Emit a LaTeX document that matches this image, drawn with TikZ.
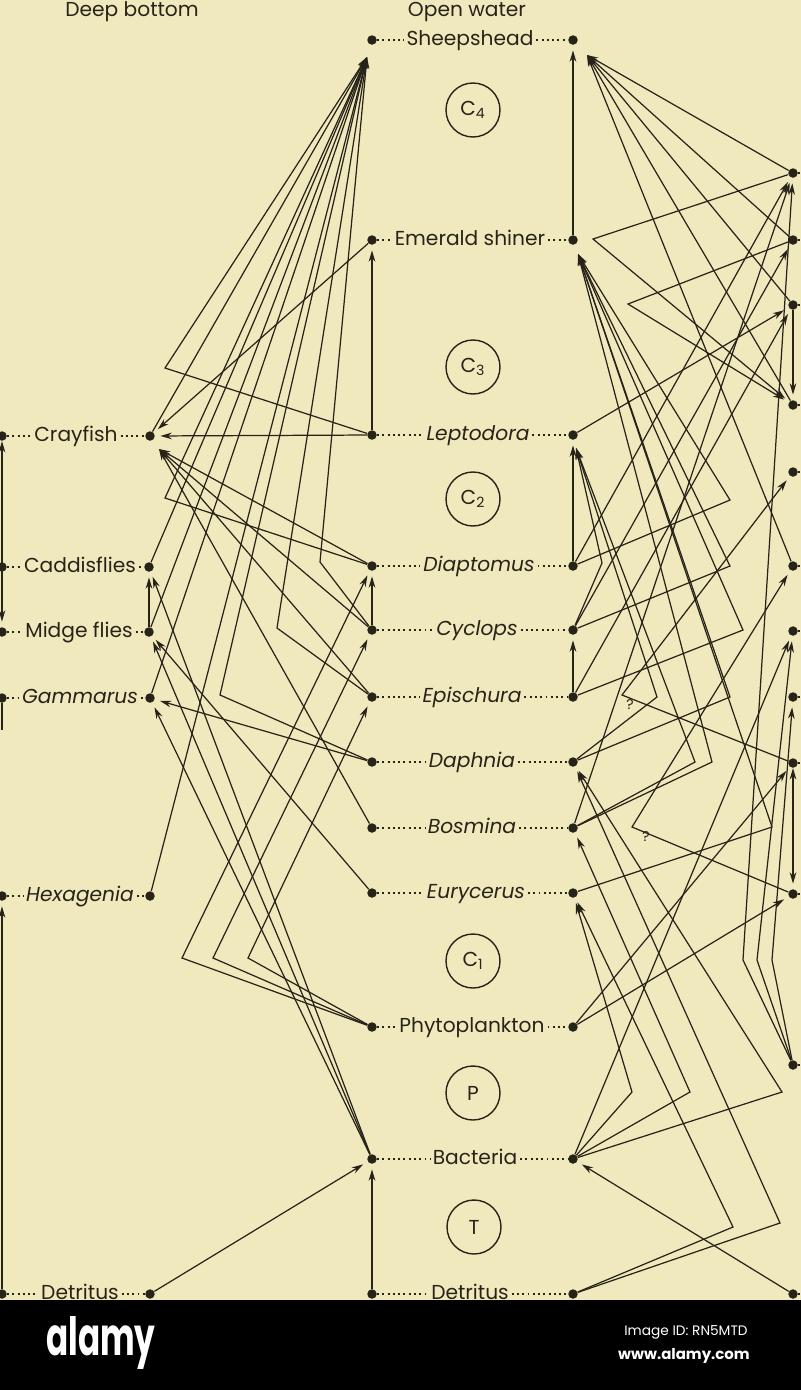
\documentclass[tikz,border=0pt]{standalone}
\usepackage{fontspec}
\setmainfont{Poppins}
\setsansfont{Poppins}
\usetikzlibrary{arrows.meta}
\definecolor{paper}{RGB}{241,233,190}
\definecolor{ink}{RGB}{40,35,25}
\newcommand\labfont{\sffamily\fontsize{11.5}{13}\selectfont}
\tikzstyle{dot} = [circle, fill=ink, inner sep=0pt, minimum size=0.19cm]
\tikzstyle{lab} = [inner sep=1.5pt, text=ink, font=\labfont, text height=1.7ex, text depth=0.5ex]
\tikzstyle{genus} = [lab, font=\labfont\itshape]
\tikzstyle{leader} = [ink, line width=1.2pt, dash pattern=on 1.1pt off 1.9pt]
\tikzstyle{trophic} = [circle, draw=ink, line width=0.8pt, minimum size=1.08cm, inner sep=0pt, text=ink, font=\labfont]
\tikzstyle{arrow} = [ink, line width=0.7pt, ->, >={Stealth[length=6.5pt,width=3.8pt]}, shorten >=3pt, line join=miter]
\tikzstyle{fan} = [arrow, shorten >=0pt]
\tikzstyle{query} = [inner sep=0pt, text=ink, font=\sffamily\fontsize{8}{9}\selectfont]

\begin{document}
\begin{tikzpicture}[x=0.02cm, y=-0.02cm]
  \useasboundingbox (0,0) rectangle (801,1390);
  \fill [paper] (0,0) rectangle (801,1300);
  \begin{scope}
  \clip (0,0) rectangle (801,1300);

  % headings
  \node (deep) [lab] at (132,11) {Deep bottom};
  \node (open) [lab] at (467,11) {Open water};

  % deep bottom
  \node (crayL) [dot] at (2,436) {};
  \node (crayR) [dot] at (150,436) {};
  \node (cray) [lab] at (76,436) {Crayfish};
  \node (caddL) [dot] at (2,567) {};
  \node (caddR) [dot] at (149,567) {};
  \node (cadd) [lab] at (80,567) {Caddisflies};
  \node (midgeL) [dot] at (2,632) {};
  \node (midgeR) [dot] at (149,632) {};
  \node (midge) [lab] at (79,632) {Midge flies};
  \node (gammL) [dot] at (2,698) {};
  \node (gammR) [dot] at (150,698) {};
  \node (gamm) [genus] at (80,698) {Gammarus};
  \node (hexaL) [dot] at (2,896) {};
  \node (hexaR) [dot] at (150,896) {};
  \node (hexa) [genus] at (80,896) {Hexagenia};
  \node (detbL) [dot] at (2,1294) {};
  \node (detbR) [dot] at (150,1294) {};
  \node (detb) [lab] at (80,1294) {Detritus};

  % open water
  \node (sheepL) [dot] at (372,40) {};
  \node (sheepR) [dot] at (573,40) {};
  \node (sheep) [lab] at (470,40) {Sheepshead};
  \node (shinerL) [dot] at (372,240) {};
  \node (shinerR) [dot] at (573,240) {};
  \node (shiner) [lab] at (470,240) {Emerald shiner};
  \node (leptoL) [dot] at (372,435) {};
  \node (leptoR) [dot] at (573,435) {};
  \node (lepto) [genus] at (478,435) {Leptodora};
  \node (diapL) [dot] at (372,566) {};
  \node (diapR) [dot] at (573,566) {};
  \node (diap) [genus] at (479,566) {Diaptomus};
  \node (cyclL) [dot] at (372,630) {};
  \node (cyclR) [dot] at (573,630) {};
  \node (cycl) [genus] at (477,630) {Cyclops};
  \node (episL) [dot] at (372,697) {};
  \node (episR) [dot] at (573,697) {};
  \node (epis) [genus] at (472,697) {Epischura};
  \node (daphL) [dot] at (372,762) {};
  \node (daphR) [dot] at (573,762) {};
  \node (daph) [genus] at (472,762) {Daphnia};
  \node (bosmL) [dot] at (372,828) {};
  \node (bosmR) [dot] at (573,828) {};
  \node (bosm) [genus] at (472,828) {Bosmina};
  \node (euryL) [dot] at (372,893) {};
  \node (euryR) [dot] at (573,893) {};
  \node (eury) [genus] at (476,893) {Eurycerus};
  \node (phytoL) [dot] at (372,1027) {};
  \node (phytoR) [dot] at (573,1027) {};
  \node (phyto) [lab] at (472,1027) {Phytoplankton};
  \node (bactL) [dot] at (372,1159) {};
  \node (bactR) [dot] at (573,1159) {};
  \node (bact) [lab] at (475,1159) {Bacteria};
  \node (detwL) [dot] at (372,1294) {};
  \node (detwR) [dot] at (573,1294) {};
  \node (detw) [lab] at (470,1294) {Detritus};

  % third column (cut off)
  \node (r1) [dot] at (793,173) {};
  \node (r2) [dot] at (793,240) {};
  \node (r3) [dot] at (793,305) {};
  \node (r4) [dot] at (793,405) {};
  \node (r5) [dot] at (793,472) {};
  \node (r6) [dot] at (793,566) {};
  \node (r7) [dot] at (793,631) {};
  \node (r8) [dot] at (793,697) {};
  \node (r9) [dot] at (793,763) {};
  \node (r10) [dot] at (793,894) {};
  \node (r11) [dot] at (793,1065) {};
  \node (r12) [dot] at (793,1294) {};

  % trophic levels
  \node (c4) [trophic] at (473,110) {C\textsubscript{4}};
  \node (c3) [trophic] at (473,367) {C\textsubscript{3}};
  \node (c2) [trophic] at (473,499) {C\textsubscript{2}};
  \node (c1) [trophic] at (473,961) {C\textsubscript{1}};
  \node (cp) [trophic] at (473,1093) {P};
  \node (ct) [trophic] at (474,1227) {T};

  % leaders
  \draw [leader] (crayL) -- (cray);   \draw [leader] (cray) -- (crayR);
  \draw [leader] (caddL) -- (cadd);   \draw [leader] (cadd) -- (caddR);
  \draw [leader] (midgeL) -- (midge); \draw [leader] (midge) -- (midgeR);
  \draw [leader] (gammL) -- (gamm);   \draw [leader] (gamm) -- (gammR);
  \draw [leader] (hexaL) -- (hexa);   \draw [leader] (hexa) -- (hexaR);
  \draw [leader] (detbL) -- (detb);   \draw [leader] (detb) -- (detbR);
  \draw [leader] (sheepL) -- (sheep);   \draw [leader] (sheep) -- (sheepR);
  \draw [leader] (shinerL) -- (shiner); \draw [leader] (shiner) -- (shinerR);
  \draw [leader] (leptoL) -- (lepto);   \draw [leader] (lepto) -- (leptoR);
  \draw [leader] (diapL) -- (diap);     \draw [leader] (diap) -- (diapR);
  \draw [leader] (cyclL) -- (cycl);     \draw [leader] (cycl) -- (cyclR);
  \draw [leader] (episL) -- (epis);     \draw [leader] (epis) -- (episR);
  \draw [leader] (daphL) -- (daph);     \draw [leader] (daph) -- (daphR);
  \draw [leader] (bosmL) -- (bosm);     \draw [leader] (bosm) -- (bosmR);
  \draw [leader] (euryL) -- (eury);     \draw [leader] (eury) -- (euryR);
  \draw [leader] (phytoL) -- (phyto);   \draw [leader] (phyto) -- (phytoR);
  \draw [leader] (bactL) -- (bact);     \draw [leader] (bact) -- (bactR);
  \draw [leader] (detwL) -- (detw);     \draw [leader] (detw) -- (detwR);
  \draw [leader] (r1) -- +(14,0);  \draw [leader] (r2) -- +(14,0);
  \draw [leader] (r3) -- +(14,0);  \draw [leader] (r4) -- +(14,0);
  \draw [leader] (r5) -- +(14,0);  \draw [leader] (r6) -- +(14,0);
  \draw [leader] (r7) -- +(14,0);  \draw [leader] (r8) -- +(14,0);
  \draw [leader] (r9) -- +(14,0);  \draw [leader] (r10) -- +(14,0);
  \draw [leader] (r11) -- +(14,0); \draw [leader] (r12) -- +(14,0);

  % arrow meeting points
  \coordinate (sheepLin) at (367,57);
  \coordinate (sheepRin) at (587,55);
  \coordinate (shinerRin) at (578,254);
  \coordinate (leptoRin) at (576,448);
  \coordinate (crayRin) at (159,449);
  \coordinate (gammoff) at (2,730);

  % bends
  \coordinate (bA) at (165,368);
  \coordinate (bB) at (165,498);
  \coordinate (bC) at (320,562);
  \coordinate (bD) at (277,628);
  \coordinate (bE) at (220,695);
  \coordinate (bF) at (182,958);
  \coordinate (bG) at (213,958);
  \coordinate (bH) at (248,958);
  \coordinate (bI) at (593,239);
  \coordinate (bJ) at (628,304);
  \coordinate (bK) at (730,500);
  \coordinate (bL) at (730,566);
  \coordinate (bM) at (743,630);
  \coordinate (bN) at (730,697);
  \coordinate (bO) at (657,697);
  \coordinate (bP) at (622,695);
  \coordinate (bQ) at (602,563);
  \coordinate (bR) at (695,762);
  \coordinate (bS) at (712,762);
  \coordinate (bT) at (632,827);
  \coordinate (bU) at (772,827);
  \coordinate (bV) at (632,1092);
  \coordinate (bW) at (690,1092);
  \coordinate (bX) at (782,1092);
  \coordinate (bY) at (733,1227);
  \coordinate (bZ) at (780,1223);
  \coordinate (w1) at (743,960);
  \coordinate (w2) at (757,960);
  \coordinate (w3) at (772,960);

  % deep bottom side
  \draw [fan] (crayR) -- (sheepLin);
  \draw [fan] (leptoL) -- (bA) -- (sheepLin);
  \draw [fan] (diapL) -- (bB) -- (sheepLin);
  \draw [fan] (caddR) -- (sheepLin);
  \draw [fan] (midgeR) -- (sheepLin);
  \draw [fan] (gammR) -- (sheepLin);
  \draw [fan] (hexaR) -- (sheepLin);
  \draw [fan] (cyclL) -- (bC) -- (sheepLin);
  \draw [fan] (episL) -- (bD) -- (sheepLin);
  \draw [fan] (daphL) -- (bE) -- (sheepLin);
  \draw [arrow] (shinerL) -- (crayR);
  \draw [arrow] (leptoL) -- (crayR);
  \draw [fan] (diapL) -- (crayRin);
  \draw [fan] (cyclL) -- (crayRin);
  \draw [fan] (episL) -- (crayRin);
  \draw [fan] (bosmL) -- (crayRin);
  \draw [arrow] (leptoL) -- (shinerL);
  \draw [arrow] (cyclL) -- (diapL);
  \draw [arrow] (daphL) -- (gammR);
  \draw [arrow] (euryL) -- (midgeR);
  \draw [arrow] (bactL) -- (caddR);
  \draw [arrow] (bactL) -- (midgeR);
  \draw [arrow] (bactL) -- (gammR);
  \draw [arrow] (midgeR) -- (caddR);
  \draw [arrow] (phytoL) -- (bF) -- (diapL);
  \draw [arrow] (phytoL) -- (bG) -- (cyclL);
  \draw [arrow] (phytoL) -- (bH) -- (episL);
  \draw [arrow] (detbR) -- (bactL);
  \draw [arrow] (detwL) -- (bactL);
  \draw [arrow, <->] (crayL) -- (midgeL);
  \draw [arrow] (detbL) -- (hexaL);
  \draw [ink, line width=0.7pt] (gammL) -- (gammoff);

  % open water side
  \draw [arrow] (shinerR) -- (sheepR);
  \draw [arrow] (diapR) -- (leptoR);
  \draw [arrow] (episR) -- (cyclR);
  \draw [fan] (r1) -- (sheepRin);
  \draw [fan] (r2) -- (sheepRin);
  \draw [fan] (r3) -- (sheepRin);
  \draw [fan] (r4) -- (sheepRin);
  \draw [fan] (r6) -- (sheepRin);
  \draw [arrow] (r1) -- (bI) -- (r4);
  \draw [arrow] (r2) -- (bJ) -- (r4);
  \draw [arrow] (r3) -- (r4);
  \draw [fan] (diapR) -- (bK) -- (shinerRin);
  \draw [fan] (cyclR) -- (bL) -- (shinerRin);
  \draw [fan] (episR) -- (bM) -- (shinerRin);
  \draw [fan] (daphR) -- (bN) -- (shinerRin);
  \draw [fan] (bosmR) -- (bS) -- (shinerRin);
  \draw [fan] (euryR) -- (bU) -- (shinerRin);
  \draw [fan] (cyclR) -- (bQ) -- (leptoRin);
  \draw [fan] (daphR) -- (bO) -- (leptoRin);
  \draw [fan] (bosmR) -- (bR) -- (leptoRin);
  \draw [arrow] (leptoR) -- (r3);
  \draw [arrow] (diapR) -- (r1);
  \draw [arrow] (bosmR) -- (r1);
  \draw [arrow] (cyclR) -- (r2);
  \draw [arrow] (episR) -- (r3);
  \draw [arrow] (r9) -- (bP) -- (r5);
  \draw [arrow] (r10) -- (bT) -- (r6);
  \node (q1) [query] at (630,705) {?};
  \node (q2) [query] at (646,837) {?};
  \draw [arrow] (bactR) -- (r7);
  \draw [arrow] (r11) -- (w1) -- (r1);
  \draw [arrow] (r11) -- (w2) -- (r7);
  \draw [arrow] (r11) -- (w3) -- (r8);
  \draw [arrow] (phytoR) -- (r9);
  \draw [arrow] (phytoR) -- (r10);
  \draw [arrow, <->] (r9) -- (r10);
  \draw [arrow] (bactR) -- (bV) -- (euryR);
  \draw [arrow] (bactR) -- (bW) -- (bosmR);
  \draw [arrow] (bactR) -- (bX) -- (daphR);
  \draw [arrow] (detwR) -- (bY) -- (euryR);
  \draw [arrow] (detwR) -- (bZ) -- (daphR);
  \draw [arrow] (r12) -- (bactR);
  \end{scope}

  % stock photo strip
  \fill [black] (0,1300) rectangle (801,1390);
  \node (logo) [text=white, font=\sffamily\bfseries\fontsize{30}{30}\selectfont, xscale=0.62, transform shape] at (101,1343) {alamy};
  \node (imgid) [text=white, font=\sffamily\fontsize{7.8}{9}\selectfont] at (686,1332) {Image ID: RN5MTD};
  \node (web) [text=white, font=\sffamily\bfseries\fontsize{8.5}{10}\selectfont] at (684,1356) {www.alamy.com};
\end{tikzpicture}
\end{document}
